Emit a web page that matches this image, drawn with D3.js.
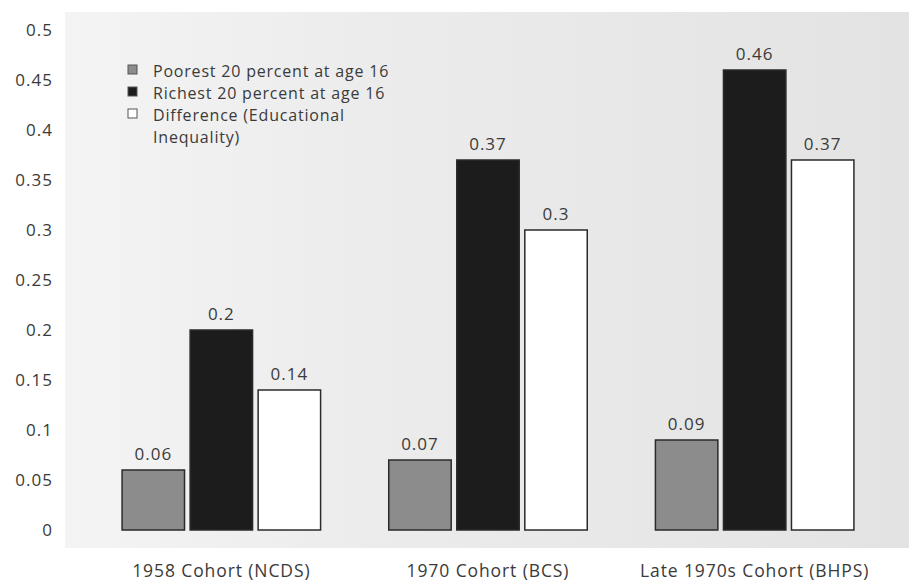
<!DOCTYPE html>
<html>
<head>
<meta charset="utf-8">
<script src="https://cdn.jsdelivr.net/npm/d3@7"></script>
<style>
  body { margin: 0; background: #fff; }
  svg text { font-family: "Open Sans", "DejaVu Sans", sans-serif; fill: #3a3a3a; }
</style>
</head>
<body>
<div id="chart"></div>
<script>
// Data
const cohorts = ['1958 Cohort (NCDS)', '1970 Cohort (BCS)', 'Late 1970s Cohort (BHPS)'];
const seriesNames = ['Poorest 20 percent at age 16', 'Richest 20 percent at age 16', 'Difference (Educational Inequality)'];
const poorest = [0.06, 0.07, 0.09];
const richest = [0.2, 0.37, 0.46];
const difference = [0.14, 0.3, 0.37];
const yTicks = [0, 0.05, 0.1, 0.15, 0.2, 0.25, 0.3, 0.35, 0.4, 0.45, 0.5];
const legendLines = [['Poorest 20 percent at age 16'], ['Richest 20 percent at age 16'], ['Difference (Educational', 'Inequality)']];

const width = 909, height = 584;
const colors = ['#8c8c8c', '#1c1c1c', '#ffffff'];

const svg = d3.select('#chart').append('svg')
    .attr('width', width)
    .attr('height', height);

// Scanned-looking grey panel
const defs = svg.append('defs');
const grad = defs.append('linearGradient').attr('id', 'bg').attr('x1', 0).attr('x2', 1);
grad.append('stop').attr('offset', 0).attr('stop-color', '#f4f4f4');
grad.append('stop').attr('offset', 0.35).attr('stop-color', '#ececec');
grad.append('stop').attr('offset', 1).attr('stop-color', '#e3e3e3');
svg.append('rect')
    .attr('x', 65).attr('y', 12)
    .attr('width', width - 65).attr('height', 536)
    .attr('fill', 'url(#bg)');

const y = d3.scaleLinear().domain([0, 0.5]).range([530, 30]);
const x0 = d3.scaleBand().domain(cohorts).range([88, 888]).paddingInner(0.25).paddingOuter(0.125);
const x1 = d3.scaleBand().domain(d3.range(3)).range([0, x0.bandwidth()]).paddingInner(0.06);

// Y axis labels only
const yAxis = d3.axisLeft(y).tickValues(yTicks).tickSize(0).tickPadding(0)
    .tickFormat(d => d === 0 ? '0' : String(+d.toFixed(2)));
const yg = svg.append('g').attr('transform', 'translate(53,0)').call(yAxis);
yg.select('.domain').remove();
yg.selectAll('text')
    .attr('font-size', 17)
    .attr('letter-spacing', 1)
    .attr('font-family', null)
    .attr('fill', '#444');

// X axis labels
const xAxis = d3.axisBottom(x0).tickSize(0).tickPadding(0);
const xg = svg.append('g').attr('transform', 'translate(0,0)').call(xAxis);
xg.select('.domain').remove();
xg.selectAll('text')
    .attr('y', 577).attr('dy', null)
    .attr('font-size', 17.5)
    .attr('letter-spacing', 0.9)
    .attr('font-family', null)
    .attr('fill', '#333');

const rows = cohorts.map((c, i) => ({
    cohort: c,
    values: [poorest[i], richest[i], difference[i]]
}));

const groups = svg.selectAll('.grp').data(rows).join('g')
    .attr('class', 'grp')
    .attr('transform', d => `translate(${x0(d.cohort)},0)`);

groups.selectAll('rect').data(d => d.values.map((v, k) => ({ v, k }))).join('rect')
    .attr('x', d => x1(d.k) + 0.75)
    .attr('width', x1.bandwidth() - 1.5)
    .attr('y', d => y(d.v))
    .attr('height', d => y(0) - y(d.v))
    .attr('fill', d => colors[d.k])
    .attr('stroke', '#2a2a2a')
    .attr('stroke-width', 1.5);

groups.selectAll('text.val').data(d => d.values.map((v, k) => ({ v, k }))).join('text')
    .attr('class', 'val')
    .attr('x', d => x1(d.k) + x1.bandwidth() / 2)
    .attr('y', d => y(d.v) - 10)
    .attr('text-anchor', 'middle')
    .attr('font-size', 17)
    .attr('letter-spacing', 1)
    .text(d => String(d.v));

// Legend
const legend = svg.append('g').attr('transform', 'translate(128,64)');
const lineH = 22;
let row = 0;
legendLines.forEach((lines, i) => {
    legend.append('rect')
        .attr('x', 0).attr('y', row * lineH + 1)
        .attr('width', 9).attr('height', 9)
        .attr('fill', colors[i])
        .attr('stroke', '#555').attr('stroke-width', 1);
    lines.forEach(t => {
        legend.append('text')
            .attr('x', 25).attr('y', row * lineH + 13)
            .attr('font-size', 16)
            .attr('letter-spacing', 0.8)
            .text(t);
        row++;
    });
});
</script>
</body>
</html>
